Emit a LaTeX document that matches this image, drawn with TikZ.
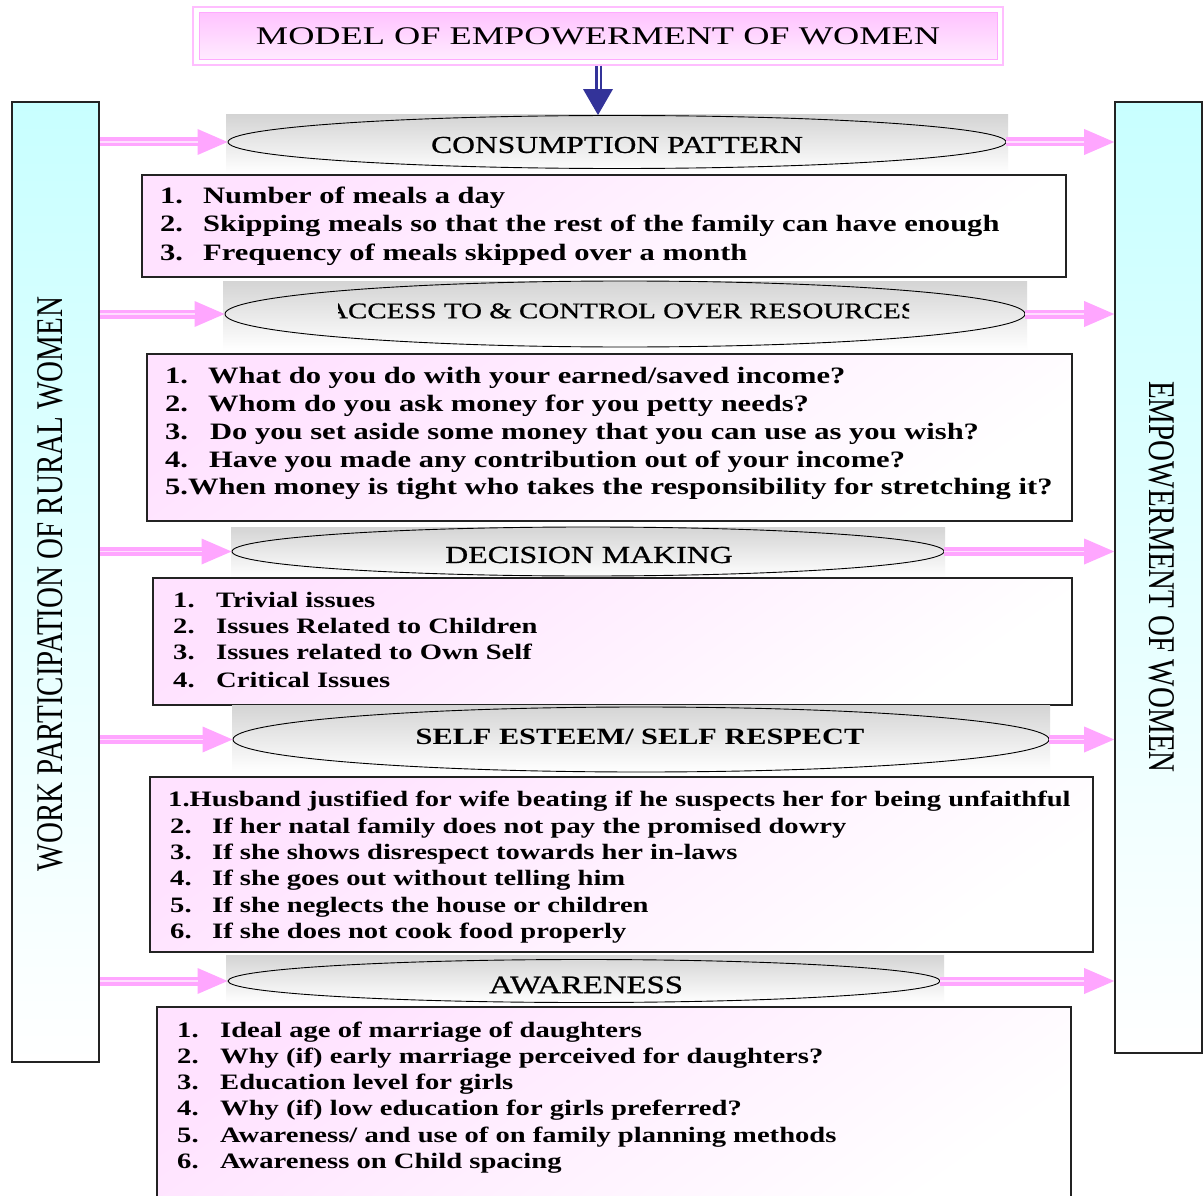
\documentclass[tikz,border=0pt]{standalone}
\usepackage{graphicx}
\usepackage{fontspec}
\setmainfont{Liberation Serif}
\newfontfamily\wide[FakeStretch=1.43]{Liberation Serif}
\newfontfamily\wideA[FakeStretch=1.3]{Liberation Serif}
\newfontfamily\wideM[FakeStretch=1.3,FakeBold=0.8]{Liberation Serif}
\usetikzlibrary{arrows.meta,shapes.geometric}
\definecolor{pinkarr}{RGB}{255,166,255}
\definecolor{pinkmid}{RGB}{255,222,255}
\definecolor{navy}{RGB}{51,51,153}
\definecolor{cyanbar}{RGB}{200,255,255}
\definecolor{boxpink}{RGB}{255,226,255}
\definecolor{titlepink}{RGB}{255,195,255}
\definecolor{titlelight}{RGB}{255,235,255}
\definecolor{titleedge}{RGB}{255,170,255}
\definecolor{titleframe}{RGB}{255,190,255}
\definecolor{ellgray}{RGB}{212,212,212}
\definecolor{edge}{RGB}{35,35,35}
\newcommand\boxA{\wideA\bfseries\fontsize{23.5}{26}\selectfont}
\newcommand\boxB{\wideA\bfseries\fontsize{22}{24}\selectfont}
\tikzset{
  sidebar/.style={draw=edge, line width=1.6pt, top color=cyanbar, bottom color=white, inner sep=0pt},
  sidetext/.style={inner sep=0pt, font=\fontsize{29}{34}\selectfont},
  listbox/.style={draw=edge, line width=1.8pt, top color=boxpink, bottom color=white, shading angle=35},
  ellbg/.style={top color=ellgray, bottom color=white},
  ell/.style={ellipse, draw=black, line width=0.9pt, inner sep=0pt},
  elltext/.style={inner sep=0pt},
  item/.style={anchor=base west, inner sep=0pt},
  pinkshaft/.style={draw=pinkarr, line width=9pt, -{Triangle[length=30pt,width=26pt,line width=0pt]}},
  pinkcore/.style={draw=pinkmid, line width=1.8pt, shorten >=30pt},
  navyshaft/.style={draw=navy, line width=7pt, -{Triangle[length=26pt,width=30pt,line width=0pt]}},
  navycore/.style={draw=white, line width=1.5pt, shorten >=26pt}
}
\begin{document}
\begin{tikzpicture}[x=1pt,y=-1pt]
\useasboundingbox (0,0) rectangle (1203,1196);
\fill[white] (0,0) rectangle (1203,1196);

% side bars
\node[sidebar, minimum width=87pt, minimum height=960pt] (lbar) at (55.5,582) {};
\node[sidetext, rotate=90] (ltxt) at (50,584) {\scalebox{1}[1.3]{WORK PARTICIPATION OF RURAL WOMEN}};
\node[sidebar, minimum width=87pt, minimum height=951pt] (rbar) at (1158.5,577.5) {};
\node[sidetext, rotate=-90] (rtxt) at (1162,577) {\scalebox{1}[1.3]{EMPOWERMENT OF WOMEN}};

% title
\node[draw=titleframe, line width=1.5pt, minimum width=810pt, minimum height=58pt, inner sep=0pt] (title) at (598,36) {};
\node[draw=titleedge, line width=1pt, top color=titlepink, bottom color=titlelight, minimum width=798pt, minimum height=47pt, inner sep=0pt] (titlein) at (598,36) {\wide\fontsize{25.4}{30}\selectfont MODEL OF EMPOWERMENT OF WOMEN};

% section 1
\path[ellbg] (226,115) rectangle (1008,173);
\node[ell, minimum width=778pt, minimum height=53pt] (e1) at (617,142) {};
\node[elltext] (e1t) at (617,145) {\wideM\fontsize{24.3}{26}\selectfont CONSUMPTION PATTERN};
\path[listbox] (142,175) rectangle (1066,277);
\node[item] (b1a) at (160,204) {\boxA\makebox[43pt][l]{1.}Number of meals a day};
\node[item] (b1b) at (160,232) {\boxA\makebox[43pt][l]{2.}Skipping meals so that the rest of the family can have enough};
\node[item] (b1c) at (160,260) {\boxA\makebox[43pt][l]{3.}Frequency of meals skipped over a month};

% section 2
\path[ellbg] (223,281) rectangle (1027,350);
\node[ell, minimum width=800pt, minimum height=66pt] (e2) at (625,314) {};
\begin{scope}
\clip (338,290) rectangle (909,335);
\node[elltext] (e2t) at (622,311) {\wideM\fontsize{22.3}{24}\selectfont ACCESS TO \& CONTROL OVER RESOURCES};
\end{scope}
\path[listbox] (147,354) rectangle (1072,521);
\node[item] (b2a) at (165,383) {\boxA\makebox[43pt][l]{1.}What do you do with your earned/saved income?};
\node[item] (b2b) at (165,411) {\boxA\makebox[43pt][l]{2.}Whom do you ask money for you petty needs?};
\node[item] (b2c) at (165,439) {\boxA\makebox[45pt][l]{3.}Do you set aside some money that you can use as you wish?};
\node[item] (b2d) at (165,467) {\boxA\makebox[44pt][l]{4.}Have you made any contribution out of your income?};
\node[item] (b2e) at (165,494) {\boxA 5.When money is tight who takes the responsibility for stretching it?};

% section 3
\path[ellbg] (231,527) rectangle (945,578);
\node[ell, minimum width=712pt, minimum height=49pt] (e3) at (588,551.5) {};
\node[elltext] (e3t) at (589,555) {\wideM\fontsize{24.5}{26}\selectfont DECISION MAKING};
\path[listbox] (153,578) rectangle (1072,705);
\node[item] (b3a) at (173,607) {\boxB\makebox[43pt][l]{1.}Trivial issues};
\node[item] (b3b) at (173,633) {\boxB\makebox[43pt][l]{2.}Issues Related to Children};
\node[item] (b3c) at (173,659) {\boxB\makebox[43pt][l]{3.}Issues related to Own Self};
\node[item] (b3d) at (173,687) {\boxB\makebox[43pt][l]{4.}Critical Issues};

% section 4
\path[ellbg] (232,705) rectangle (1050,772);
\node[ell, minimum width=816pt, minimum height=65pt] (e4) at (641,739.5) {};
\node[elltext] (e4t) at (640,737) {\wideA\bfseries\fontsize{23.3}{26}\selectfont SELF ESTEEM/ SELF RESPECT};
\path[listbox] (150,777) rectangle (1093,952);
\node[item] (b4a) at (168,806) {\boxB 1.Husband justified for wife beating if he suspects her for being unfaithful};
\node[item] (b4b) at (170,833) {\boxB\makebox[42pt][l]{2.}If her natal family does not pay the promised dowry};
\node[item] (b4c) at (170,859) {\boxB\makebox[42pt][l]{3.}If she shows disrespect towards her in-laws};
\node[item] (b4d) at (170,885) {\boxB\makebox[42pt][l]{4.}If she goes out without telling him};
\node[item] (b4e) at (170,912) {\boxB\makebox[42pt][l]{5.}If she neglects the house or children};
\node[item] (b4f) at (170,938) {\boxB\makebox[42pt][l]{6.}If she does not cook food properly};

% section 5
\path[ellbg] (226,955) rectangle (944,1003);
\node[ell, minimum width=712pt, minimum height=43pt] (e5) at (584,981) {};
\node[elltext] (e5t) at (586,985) {\wideM\fontsize{25.2}{26}\selectfont AWARENESS};
\path[listbox] (157,1007) rectangle (1071,1210);
\node[item] (b5a) at (177,1037) {\boxB\makebox[43pt][l]{1.}Ideal age of marriage of daughters};
\node[item] (b5b) at (177,1063) {\boxB\makebox[43pt][l]{2.}Why (if) early marriage perceived for daughters?};
\node[item] (b5c) at (177,1089) {\boxB\makebox[43pt][l]{3.}Education level for girls};
\node[item] (b5d) at (177,1115) {\boxB\makebox[43pt][l]{4.}Why (if) low education for girls preferred?};
\node[item] (b5e) at (177,1142) {\boxB\makebox[43pt][l]{5.}Awareness/ and use of on family planning methods};
\node[item] (b5f) at (177,1168) {\boxB\makebox[43pt][l]{6.}Awareness on Child spacing};

% blue arrow
\draw[navyshaft] (title.south) -- (title.south |- e1.north);
\draw[navycore] ([xshift=1pt]title.south) -- ([xshift=1pt]title.south |- e1.north);

% pink arrows
\foreach \e in {e1,e2,e3,e4,e5}{
  \draw[pinkshaft] (lbar.east |- \e.west) -- (\e.west);
  \draw[pinkcore] (lbar.east |- \e.west) -- (\e.west);
  \draw[pinkshaft] (\e.east) -- (\e.east -| rbar.west);
  \draw[pinkcore] (\e.east) -- (\e.east -| rbar.west);
}
\end{tikzpicture}
\end{document}
